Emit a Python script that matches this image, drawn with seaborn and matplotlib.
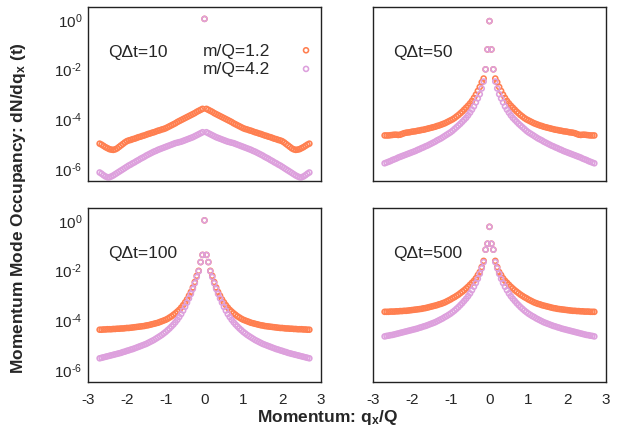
import numpy as np
import pandas as pd
import matplotlib
matplotlib.use("Agg")
import matplotlib.pyplot as plt
import seaborn as sns
from matplotlib.ticker import FixedLocator, NullLocator, NullFormatter, FuncFormatter

# ---------------- data (log10 of dN/dq_x) ----------------
# momentum lattice q_x/Q from -2.70 to 2.70 in steps of 0.05 (109 modes)
q = np.round(np.linspace(-2.7, 2.7, 109), 2)

panel_titles = ["Q\u0394t=10", "Q\u0394t=50", "Q\u0394t=100", "Q\u0394t=500"]
series_labels = ["m/Q=1.2", "m/Q=4.2"]

log_m12_t10 = [-5.02,-5.06,-5.11,-5.16,-5.20,-5.24,-5.26,-5.27,-5.25,-5.21,-5.15,-5.09,-5.03,-4.97,-4.92,-4.89,-4.87,-4.84,-4.82,-4.79,-4.76,-4.74,-4.71,-4.69,-4.66,-4.63,-4.61,-4.58,-4.56,-4.53,-4.50,-4.48,-4.45,-4.43,-4.40,-4.36,-4.32,-4.28,-4.24,-4.20,-4.15,-4.11,-4.07,-4.03,-3.99,-3.95,-3.91,-3.87,-3.83,-3.79,-3.74,-3.70,-3.66,-3.62,
               0.00,
               -3.62,-3.66,-3.70,-3.74,-3.79,-3.83,-3.87,-3.91,-3.95,-3.99,-4.03,-4.07,-4.11,-4.15,-4.20,-4.24,-4.28,-4.32,-4.36,-4.40,-4.43,-4.45,-4.48,-4.50,-4.53,-4.56,-4.58,-4.61,-4.63,-4.66,-4.69,-4.71,-4.74,-4.76,-4.79,-4.82,-4.84,-4.87,-4.89,-4.92,-4.97,-5.03,-5.09,-5.15,-5.21,-5.25,-5.27,-5.26,-5.24,-5.20,-5.16,-5.11,-5.06,-5.02]
log_m42_t10 = [-6.18,-6.23,-6.29,-6.34,-6.37,-6.37,-6.34,-6.30,-6.25,-6.20,-6.15,-6.10,-6.05,-6.00,-5.95,-5.90,-5.86,-5.81,-5.77,-5.72,-5.68,-5.63,-5.59,-5.55,-5.50,-5.46,-5.42,-5.38,-5.34,-5.31,-5.27,-5.24,-5.21,-5.18,-5.15,-5.12,-5.09,-5.06,-5.03,-5.00,-4.98,-4.96,-4.94,-4.91,-4.88,-4.85,-4.82,-4.79,-4.76,-4.72,-4.68,-4.64,-4.60,-4.56,
               0.00,
               -4.56,-4.60,-4.64,-4.68,-4.72,-4.76,-4.79,-4.82,-4.85,-4.88,-4.91,-4.94,-4.96,-4.98,-5.00,-5.03,-5.06,-5.09,-5.12,-5.15,-5.18,-5.21,-5.24,-5.27,-5.31,-5.34,-5.38,-5.42,-5.46,-5.50,-5.55,-5.59,-5.63,-5.68,-5.72,-5.77,-5.81,-5.86,-5.90,-5.95,-6.00,-6.05,-6.10,-6.15,-6.20,-6.25,-6.30,-6.34,-6.37,-6.37,-6.34,-6.29,-6.23,-6.18]

log_m12_t50 = [-4.69,-4.69,-4.69,-4.68,-4.67,-4.66,-4.66,-4.67,-4.66,-4.63,-4.60,-4.58,-4.57,-4.56,-4.54,-4.53,-4.52,-4.50,-4.49,-4.47,-4.46,-4.44,-4.42,-4.40,-4.38,-4.36,-4.34,-4.31,-4.29,-4.26,-4.23,-4.20,-4.16,-4.12,-4.08,-4.04,-3.99,-3.93,-3.87,-3.80,-3.73,-3.65,-3.57,-3.49,-3.40,-3.30,-3.18,-3.05,-2.90,-2.74,-2.55,-2.40,-2.03,-1.23,
               -0.09,
               -1.23,-2.03,-2.40,-2.55,-2.74,-2.90,-3.05,-3.18,-3.30,-3.40,-3.49,-3.57,-3.65,-3.73,-3.80,-3.87,-3.93,-3.99,-4.04,-4.08,-4.12,-4.16,-4.20,-4.23,-4.26,-4.29,-4.31,-4.34,-4.36,-4.38,-4.40,-4.42,-4.44,-4.46,-4.47,-4.49,-4.50,-4.52,-4.53,-4.54,-4.56,-4.57,-4.58,-4.60,-4.63,-4.66,-4.67,-4.66,-4.66,-4.67,-4.68,-4.69,-4.69,-4.69]
log_m42_t50 = [-5.81,-5.78,-5.75,-5.72,-5.68,-5.65,-5.62,-5.58,-5.55,-5.52,-5.49,-5.46,-5.43,-5.40,-5.37,-5.34,-5.31,-5.27,-5.24,-5.20,-5.17,-5.13,-5.10,-5.06,-5.02,-4.98,-4.94,-4.89,-4.85,-4.81,-4.76,-4.71,-4.66,-4.61,-4.56,-4.50,-4.43,-4.36,-4.29,-4.22,-4.14,-4.06,-3.98,-3.88,-3.77,-3.65,-3.52,-3.36,-3.20,-3.03,-2.80,-2.52,-2.03,-1.23,
               -0.09,
               -1.23,-2.03,-2.52,-2.80,-3.03,-3.20,-3.36,-3.52,-3.65,-3.77,-3.88,-3.98,-4.06,-4.14,-4.22,-4.29,-4.36,-4.43,-4.50,-4.56,-4.61,-4.66,-4.71,-4.76,-4.81,-4.85,-4.89,-4.94,-4.98,-5.02,-5.06,-5.10,-5.13,-5.17,-5.20,-5.24,-5.27,-5.31,-5.34,-5.37,-5.40,-5.43,-5.46,-5.49,-5.52,-5.55,-5.58,-5.62,-5.65,-5.68,-5.72,-5.75,-5.78,-5.81]

log_m12_t100 = [-4.42,-4.42,-4.41,-4.41,-4.40,-4.40,-4.40,-4.39,-4.39,-4.38,-4.38,-4.37,-4.37,-4.36,-4.35,-4.35,-4.34,-4.33,-4.32,-4.31,-4.30,-4.29,-4.28,-4.27,-4.25,-4.24,-4.22,-4.20,-4.18,-4.16,-4.14,-4.11,-4.08,-4.05,-4.02,-3.98,-3.93,-3.88,-3.82,-3.76,-3.69,-3.62,-3.53,-3.43,-3.32,-3.20,-3.05,-2.90,-2.72,-2.50,-2.25,-2.05,-1.70,-1.41,
                -0.02,
                -1.41,-1.70,-2.05,-2.25,-2.50,-2.72,-2.90,-3.05,-3.20,-3.32,-3.43,-3.53,-3.62,-3.69,-3.76,-3.82,-3.88,-3.93,-3.98,-4.02,-4.05,-4.08,-4.11,-4.14,-4.16,-4.18,-4.20,-4.22,-4.24,-4.25,-4.27,-4.28,-4.29,-4.30,-4.31,-4.32,-4.33,-4.34,-4.35,-4.35,-4.36,-4.37,-4.37,-4.38,-4.38,-4.39,-4.39,-4.40,-4.40,-4.40,-4.41,-4.41,-4.42,-4.42]
log_m42_t100 = [-5.57,-5.55,-5.53,-5.51,-5.49,-5.47,-5.45,-5.43,-5.41,-5.39,-5.37,-5.35,-5.32,-5.30,-5.27,-5.25,-5.22,-5.20,-5.17,-5.14,-5.11,-5.08,-5.05,-5.02,-4.99,-4.95,-4.91,-4.87,-4.83,-4.78,-4.73,-4.68,-4.63,-4.57,-4.51,-4.44,-4.37,-4.29,-4.21,-4.12,-4.02,-3.91,-3.79,-3.65,-3.50,-3.33,-3.16,-2.98,-2.78,-2.55,-2.30,-2.07,-1.70,-1.41,
                -0.02,
                -1.41,-1.70,-2.07,-2.30,-2.55,-2.78,-2.98,-3.16,-3.33,-3.50,-3.65,-3.79,-3.91,-4.02,-4.12,-4.21,-4.29,-4.37,-4.44,-4.51,-4.57,-4.63,-4.68,-4.73,-4.78,-4.83,-4.87,-4.91,-4.95,-4.99,-5.02,-5.05,-5.08,-5.11,-5.14,-5.17,-5.20,-5.22,-5.25,-5.27,-5.30,-5.32,-5.35,-5.37,-5.39,-5.41,-5.43,-5.45,-5.47,-5.49,-5.51,-5.53,-5.55,-5.57]

log_m12_t500 = [-3.70,-3.70,-3.70,-3.69,-3.69,-3.69,-3.68,-3.68,-3.67,-3.67,-3.66,-3.66,-3.65,-3.64,-3.63,-3.62,-3.61,-3.60,-3.59,-3.58,-3.56,-3.55,-3.53,-3.51,-3.49,-3.47,-3.45,-3.43,-3.40,-3.38,-3.35,-3.32,-3.28,-3.24,-3.20,-3.15,-3.11,-3.06,-3.01,-2.95,-2.89,-2.83,-2.76,-2.69,-2.61,-2.53,-2.45,-2.35,-2.22,-2.10,-1.90,-1.65,-1.20,-0.96,
                -0.28,
                -0.96,-1.20,-1.65,-1.90,-2.10,-2.22,-2.35,-2.45,-2.53,-2.61,-2.69,-2.76,-2.83,-2.89,-2.95,-3.01,-3.06,-3.11,-3.15,-3.20,-3.24,-3.28,-3.32,-3.35,-3.38,-3.40,-3.43,-3.45,-3.47,-3.49,-3.51,-3.53,-3.55,-3.56,-3.58,-3.59,-3.60,-3.61,-3.62,-3.63,-3.64,-3.65,-3.66,-3.66,-3.67,-3.67,-3.68,-3.68,-3.69,-3.69,-3.69,-3.70,-3.70,-3.70]
log_m42_t500 = [-4.69,-4.67,-4.66,-4.64,-4.63,-4.61,-4.59,-4.57,-4.55,-4.53,-4.51,-4.49,-4.47,-4.45,-4.43,-4.41,-4.39,-4.37,-4.34,-4.32,-4.29,-4.27,-4.24,-4.21,-4.18,-4.15,-4.12,-4.08,-4.04,-4.00,-3.96,-3.91,-3.87,-3.82,-3.77,-3.71,-3.65,-3.58,-3.51,-3.43,-3.35,-3.26,-3.17,-3.07,-2.96,-2.83,-2.69,-2.54,-2.37,-2.17,-1.95,-1.70,-1.20,-0.96,
                -0.28,
                -0.96,-1.20,-1.70,-1.95,-2.17,-2.37,-2.54,-2.69,-2.83,-2.96,-3.07,-3.17,-3.26,-3.35,-3.43,-3.51,-3.58,-3.65,-3.71,-3.77,-3.82,-3.87,-3.91,-3.96,-4.00,-4.04,-4.08,-4.12,-4.15,-4.18,-4.21,-4.24,-4.27,-4.29,-4.32,-4.34,-4.37,-4.39,-4.41,-4.43,-4.45,-4.47,-4.49,-4.51,-4.53,-4.55,-4.57,-4.59,-4.61,-4.63,-4.64,-4.66,-4.67,-4.69]

x_ticks = [-3, -2, -1, 0, 1, 2, 3]
y_major = [1e-6, 1e-4, 1e-2, 1e0]

panels = [
    (panel_titles[0], log_m12_t10, log_m42_t10),
    (panel_titles[1], log_m12_t50, log_m42_t50),
    (panel_titles[2], log_m12_t100, log_m42_t100),
    (panel_titles[3], log_m12_t500, log_m42_t500),
]

# ---------------- style ----------------
sns.set_theme(style="white")
plt.rcParams["font.family"] = ["Liberation Sans", "DejaVu Sans"]
plt.rcParams["mathtext.fontset"] = "custom"
plt.rcParams["mathtext.rm"] = "Liberation Sans"
plt.rcParams["mathtext.it"] = "Liberation Sans:italic"
plt.rcParams["mathtext.bf"] = "Liberation Sans:bold"
plt.rcParams["axes.unicode_minus"] = False

colors = ["#FF7F50", "#DDA0DD"]  # coral, plum


def pow10_label(v, pos):
    e = int(round(np.log10(v)))
    if e < 0:
        return "$\\mathregular{10^{\\text{-}%d}}$" % (-e)
    return "$\\mathregular{10^{%d}}$" % e


fig = plt.figure(figsize=(6.21, 4.31), dpi=100)
W, H = 0.3752, 0.4037
origins = [(0.1417, 0.5777), (0.6006, 0.5777), (0.1417, 0.1114), (0.6006, 0.1114)]

minor_y = [k * 10.0 ** e for e in (-7, -5, -3, -1) for k in range(1, 10)]

for i, (title, ya, yb) in enumerate(panels):
    assert len(ya) == len(q) and len(yb) == len(q)
    ax = fig.add_axes([origins[i][0], origins[i][1], W, H])
    df = pd.DataFrame({
        "q": np.concatenate([q, q]),
        "occ": 10.0 ** np.array(list(ya) + list(yb)),
        "mass": [series_labels[0]] * len(q) + [series_labels[1]] * len(q),
    })
    for lab, col in zip(series_labels, colors):
        sub = df[df["mass"] == lab]
        sns.scatterplot(data=sub, x="q", y="occ", ax=ax, marker="o", s=13,
                        facecolor="none", edgecolor=col, color=col,
                        linewidth=1.15, label=lab, legend=False)
    ax.set_yscale("log")
    ax.set_xlim(-3, 3)
    ax.set_ylim(3e-7, 3)
    ax.set_xlabel("")
    ax.set_ylabel("")
    for sp in ax.spines.values():
        sp.set_linewidth(1.0)
        sp.set_color("#222222")
        sp.set_visible(True)

    left = (i % 2 == 0)
    bottom = (i >= 2)

    ax.xaxis.set_major_locator(FixedLocator(x_ticks))
    ax.xaxis.set_minor_locator(NullLocator())
    ax.yaxis.set_major_locator(FixedLocator(y_major))
    ax.yaxis.set_minor_locator(FixedLocator(minor_y))
    ax.yaxis.set_major_formatter(FuncFormatter(pow10_label))
    ax.yaxis.set_minor_formatter(NullFormatter())

    ax.tick_params(axis="x", which="both", direction="in", length=3.6 if bottom else 0,
                   width=1.0, labelbottom=bottom, labelsize=11, pad=7, top=False,
                   color="#222222")
    ax.tick_params(axis="y", which="major", direction="in", length=3.6 if left else 0,
                   width=1.0, labelleft=left, labelsize=11, pad=4, right=False,
                   color="#222222")
    ax.tick_params(axis="y", which="minor", direction="in", length=2.0 if left else 0,
                   width=0.8, right=False, color="#222222")

    ax.text(0.085, 0.745, title, transform=ax.transAxes, fontsize=12.5,
            va="center", ha="left")

    if i == 0:
        ax.legend(loc="upper right", bbox_to_anchor=(0.973, 0.795),
                  markerfirst=False, frameon=False, handlelength=1.0,
                  handletextpad=1.57, borderpad=0, borderaxespad=0,
                  labelspacing=0.2, fontsize=12.5)

fig.text(0.029, 0.517, "Momentum Mode Occupancy: dN/dq$_\\mathbf{x}$ (t)", rotation=90,
         ha="center", va="center", fontsize=12.5, fontweight="bold")
fig.text(0.528, 0.022, "Momentum: q$_\\mathbf{x}$/Q", ha="center", va="baseline",
         fontsize=12.5, fontweight="bold")

fig.savefig("out.png", dpi=100)
